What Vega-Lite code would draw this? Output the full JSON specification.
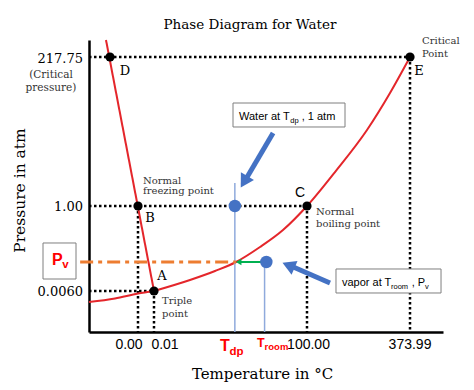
{
  "$schema": "https://vega.github.io/schema/vega-lite/v6.json",
  "width": 354,
  "height": 292,
  "autosize": {"type": "none"},
  "padding": {"left": 89, "top": 40, "right": 31, "bottom": 58},
  "background": "white",
  "view": {"stroke": null},
  "title": {"text": "Phase Diagram for Water", "font": "DejaVu Serif", "fontSize": 13.5, "fontWeight": "normal", "color": "black", "anchor": "middle", "frame": "group", "dx": -16, "offset": -6, "baseline": "alphabetic"},
  "datasets": {
    "curves": [
      {"curve": "fusion", "o": 1, "x": 4.8, "y": 100},
      {"curve": "fusion", "o": 2, "x": 18.36, "y": 14.04},
      {"curve": "sublimation", "o": 1, "x": 0, "y": 10.27},
      {"curve": "sublimation", "o": 2, "x": 7.34, "y": 11.47},
      {"curve": "sublimation", "o": 3, "x": 13.84, "y": 13.18},
      {"curve": "sublimation", "o": 4, "x": 18.36, "y": 14.04},
      {"curve": "vaporization", "o": 1, "x": 18.36, "y": 14.04},
      {"curve": "vaporization", "o": 2, "x": 28.53, "y": 17.81},
      {"curve": "vaporization", "o": 3, "x": 35.59, "y": 20.89},
      {"curve": "vaporization", "o": 4, "x": 41.53, "y": 23.97},
      {"curve": "vaporization", "o": 5, "x": 48.31, "y": 29.11},
      {"curve": "vaporization", "o": 6, "x": 54.8, "y": 34.93},
      {"curve": "vaporization", "o": 7, "x": 61.58, "y": 43.15},
      {"curve": "vaporization", "o": 8, "x": 69.49, "y": 54.79},
      {"curve": "vaporization", "o": 9, "x": 78.53, "y": 69.18},
      {"curve": "vaporization", "o": 10, "x": 85.03, "y": 81.85},
      {"curve": "vaporization", "o": 11, "x": 90.68, "y": 94.18}
    ],
    "dotted": [
      {"x": 0, "y": 94.18, "x2": 90.68, "y2": 94.18},
      {"x": 90.68, "y": 94.18, "x2": 90.68, "y2": 0},
      {"x": 0, "y": 43.15, "x2": 61.58, "y2": 43.15},
      {"x": 13.84, "y": 43.15, "x2": 13.84, "y2": 0},
      {"x": 61.58, "y": 43.15, "x2": 61.58, "y2": 0},
      {"x": 0, "y": 14.04, "x2": 18.36, "y2": 14.04},
      {"x": 18.36, "y": 14.04, "x2": 18.36, "y2": 0}
    ],
    "guides": [
      {"line": "Tdp", "x": 41.2, "y": 0, "x2": 41.2, "y2": 51.0},
      {"line": "Troom", "x": 49.6, "y": 0, "x2": 49.6, "y2": 23.97},
      {"line": "Pv", "x": -2.5, "y": 23.97, "x2": 41.5, "y2": 23.97},
      {"line": "cooling", "x": 50.1, "y": 23.97, "x2": 42.8, "y2": 23.97},
      {"line": "pointer", "x": 52.0, "y": 68.15, "x2": 44.35, "y2": 52.4},
      {"line": "pointer", "x": 68.08, "y": 16.78, "x2": 57.06, "y2": 22.6}
    ],
    "points": [
      {"kind": "black", "name": "D", "x": 5.93, "y": 94.18},
      {"kind": "black", "name": "B", "x": 13.84, "y": 43.15},
      {"kind": "black", "name": "A", "x": 18.36, "y": 14.04},
      {"kind": "black", "name": "C", "x": 61.58, "y": 43.15},
      {"kind": "black", "name": "E", "x": 90.68, "y": 94.18},
      {"kind": "blue", "name": "water", "x": 41.2, "y": 43.15},
      {"kind": "blue", "name": "vapor", "x": 50.1, "y": 23.97}
    ],
    "heads": [
      {"head": "water", "x": 43.81, "y": 51.44},
      {"head": "vapor", "x": 56.36, "y": 22.84},
      {"head": "cooling", "x": 42.29, "y": 23.97}
    ],
    "boxes": [
      {"box": "water", "x": 40.68, "y": 78.42, "x2": 72.32, "y2": 70.21},
      {"box": "vapor", "x": 69.77, "y": 21.58, "x2": 99.44, "y2": 13.36},
      {"box": "Pv", "x": -12.99, "y": 30.48, "x2": -3.67, "y2": 18.15}
    ],
    "labels": [
      {"role": "ytick", "x": -1.69, "y": 92.12, "text": "217.75"},
      {"role": "ytick", "x": -1.69, "y": 41.44, "text": "1.00"},
      {"role": "ytick", "x": -1.69, "y": 12.33, "text": "0.0060"},
      {"role": "ynote", "x": -10.73, "y": 86.99, "text": "(Critical"},
      {"role": "ynote", "x": -10.73, "y": 82.53, "text": "pressure)"},
      {"role": "xtick", "x": 11.3, "y": -5.82, "text": "0.00"},
      {"role": "xtick", "x": 21.47, "y": -5.82, "text": "0.01"},
      {"role": "xtick", "x": 62.01, "y": -5.82, "text": "100.00"},
      {"role": "xtick", "x": 90.68, "y": -5.82, "text": "373.99"},
      {"role": "letter", "x": 10.17, "y": 88.01, "text": "D"},
      {"role": "letter", "x": 93.22, "y": 88.01, "text": "E"},
      {"role": "letter", "x": 17.23, "y": 37.67, "text": "B"},
      {"role": "letter", "x": 20.62, "y": 17.81, "text": "A"},
      {"role": "letterC", "x": 59.6, "y": 46.23, "text": "C"},
      {"role": "note", "x": 15.25, "y": 50.68, "text": "Normal"},
      {"role": "note", "x": 15.25, "y": 47.26, "text": "freezing point"},
      {"role": "note", "x": 64.12, "y": 40.07, "text": "Normal"},
      {"role": "note", "x": 64.12, "y": 35.96, "text": "boiling point"},
      {"role": "note", "x": 20.62, "y": 9.59, "text": "Triple"},
      {"role": "note", "x": 20.62, "y": 5.14, "text": "point"},
      {"role": "note", "x": 94.07, "y": 98.63, "text": "Critical"},
      {"role": "note", "x": 94.07, "y": 94.18, "text": "Point"},
      {"role": "boxtext", "x": 42.37, "y": 72.6, "text": "Water at T"},
      {"role": "boxtext", "x": 60.08, "y": 72.6, "text": ", 1 atm"},
      {"role": "boxtext", "x": 71.47, "y": 15.75, "text": "vapor at T"},
      {"role": "boxtext", "x": 91.15, "y": 15.75, "text": ", P"},
      {"role": "boxsub", "x": 56.86, "y": 71.58, "text": "dp"},
      {"role": "boxsub", "x": 85.31, "y": 14.73, "text": "room"},
      {"role": "boxsub", "x": 94.94, "y": 14.73, "text": "v"},
      {"role": "redmain", "x": 37.01, "y": -6.51, "text": "T"},
      {"role": "redmain", "x": -10.45, "y": 22.95, "text": "P"},
      {"role": "redsub", "x": 39.69, "y": -7.88, "text": "dp"},
      {"role": "redsub", "x": -7.54, "y": 21.92, "text": "v"},
      {"role": "redmainsmall", "x": 47.46, "y": -5.14, "text": "T"},
      {"role": "redsubsmall", "x": 49.6, "y": -6.16, "text": "room"}
    ]
  },
  "encoding": {
    "x": {"field": "x", "type": "quantitative", "scale": {"domain": [0, 100], "nice": false, "zero": false},
      "axis": {"title": "Temperature in °C", "labels": false, "ticks": false, "grid": false, "domainColor": "black", "domainWidth": 2.5, "titleFont": "DejaVu Serif", "titleFontSize": 15, "titleFontWeight": "normal", "titleColor": "black", "titleX": 173, "titleY": 46, "titleAlign": "center", "titleBaseline": "alphabetic"}},
    "y": {"field": "y", "type": "quantitative", "scale": {"domain": [0, 100], "nice": false, "zero": false},
      "axis": {"title": "Pressure in atm", "labels": false, "ticks": false, "grid": false, "domainColor": "black", "domainWidth": 2.5, "titleFont": "DejaVu Serif", "titleFontSize": 15.5, "titleFontWeight": "normal", "titleColor": "black", "titleAngle": -90, "titleX": -65, "titleY": 150, "titleAlign": "center", "titleBaseline": "alphabetic"}}
  },
  "layer": [
    {"data": {"name": "dotted"}, "mark": {"type": "rule", "color": "black", "strokeWidth": 2.5, "strokeDash": [2.5, 2.5]}, "encoding": {"x2": {"field": "x2"}, "y2": {"field": "y2"}}},
    {"data": {"name": "curves"}, "mark": {"type": "line", "color": "#e4262b", "strokeWidth": 2, "interpolate": "monotone"}, "encoding": {"detail": {"field": "curve"}, "order": {"field": "o"}}},
    {"data": {"name": "guides"}, "transform": [{"filter": "datum.line === 'Tdp' || datum.line === 'Troom'"}], "mark": {"type": "rule", "color": "#8faadc", "strokeWidth": 1.5}, "encoding": {"x2": {"field": "x2"}, "y2": {"field": "y2"}}},
    {"data": {"name": "guides"}, "transform": [{"filter": "datum.line === 'Pv'"}], "mark": {"type": "rule", "color": "#ed7d31", "strokeWidth": 3, "strokeDash": [13, 5, 4, 5]}, "encoding": {"x2": {"field": "x2"}, "y2": {"field": "y2"}}},
    {"data": {"name": "guides"}, "transform": [{"filter": "datum.line === 'cooling'"}], "mark": {"type": "rule", "color": "#00b050", "strokeWidth": 2}, "encoding": {"x2": {"field": "x2"}, "y2": {"field": "y2"}}},
    {"data": {"name": "heads"}, "transform": [{"filter": "datum.head === 'cooling'"}], "mark": {"type": "point", "shape": "triangle-left", "size": 40, "filled": true, "opacity": 1, "color": "#00b050"}},
    {"data": {"name": "points"}, "transform": [{"filter": "datum.kind === 'black'"}], "mark": {"type": "point", "shape": "circle", "size": 85, "filled": true, "opacity": 1, "color": "black"}},
    {"data": {"name": "points"}, "transform": [{"filter": "datum.kind === 'blue'"}], "mark": {"type": "point", "shape": "circle", "size": 155, "filled": true, "opacity": 1, "color": "#4472c4"}},
    {"data": {"name": "boxes"}, "mark": {"type": "rect", "fill": "white", "stroke": "#7f7f7f", "strokeWidth": 1}, "encoding": {"x2": {"field": "x2"}, "y2": {"field": "y2"}}},
    {"data": {"name": "guides"}, "transform": [{"filter": "datum.line === 'pointer'"}], "mark": {"type": "rule", "color": "#4472c4", "strokeWidth": 5}, "encoding": {"x2": {"field": "x2"}, "y2": {"field": "y2"}}},
    {"data": {"name": "heads"}, "transform": [{"filter": "datum.head === 'water'"}], "mark": {"type": "point", "shape": "triangle-up", "size": 230, "angle": 210.6, "filled": true, "opacity": 1, "color": "#4472c4"}},
    {"data": {"name": "heads"}, "transform": [{"filter": "datum.head === 'vapor'"}], "mark": {"type": "point", "shape": "triangle-up", "size": 230, "angle": 293, "filled": true, "opacity": 1, "color": "#4472c4"}},
    {"data": {"name": "labels"}, "transform": [{"filter": "datum.role === 'ytick'"}], "mark": {"type": "text", "font": "DejaVu Serif", "fontSize": 13, "align": "right", "baseline": "alphabetic", "color": "black"}, "encoding": {"text": {"field": "text"}}},
    {"data": {"name": "labels"}, "transform": [{"filter": "datum.role === 'ynote'"}], "mark": {"type": "text", "font": "DejaVu Serif", "fontSize": 10.5, "align": "center", "baseline": "alphabetic", "color": "#333333"}, "encoding": {"text": {"field": "text"}}},
    {"data": {"name": "labels"}, "transform": [{"filter": "datum.role === 'xtick'"}], "mark": {"type": "text", "font": "Liberation Sans", "fontSize": 14, "align": "center", "baseline": "alphabetic", "color": "black"}, "encoding": {"text": {"field": "text"}}},
    {"data": {"name": "labels"}, "transform": [{"filter": "datum.role === 'letter'"}], "mark": {"type": "text", "font": "DejaVu Serif", "fontSize": 13, "align": "center", "baseline": "alphabetic", "color": "black"}, "encoding": {"text": {"field": "text"}}},
    {"data": {"name": "labels"}, "transform": [{"filter": "datum.role === 'letterC'"}], "mark": {"type": "text", "font": "Liberation Sans", "fontSize": 14, "align": "center", "baseline": "alphabetic", "color": "black"}, "encoding": {"text": {"field": "text"}}},
    {"data": {"name": "labels"}, "transform": [{"filter": "datum.role === 'note'"}], "mark": {"type": "text", "font": "DejaVu Serif", "fontSize": 10, "align": "left", "baseline": "alphabetic", "color": "#333333"}, "encoding": {"text": {"field": "text"}}},
    {"data": {"name": "labels"}, "transform": [{"filter": "datum.role === 'boxtext'"}], "mark": {"type": "text", "font": "Liberation Sans", "fontSize": 11, "align": "left", "baseline": "alphabetic", "color": "black"}, "encoding": {"text": {"field": "text"}}},
    {"data": {"name": "labels"}, "transform": [{"filter": "datum.role === 'boxsub'"}], "mark": {"type": "text", "font": "Liberation Sans", "fontSize": 7.5, "align": "left", "baseline": "alphabetic", "color": "black"}, "encoding": {"text": {"field": "text"}}},
    {"data": {"name": "labels"}, "transform": [{"filter": "datum.role === 'redmain'"}], "mark": {"type": "text", "font": "Liberation Sans", "fontSize": 16, "fontWeight": "bold", "align": "left", "baseline": "alphabetic", "color": "#ff0000"}, "encoding": {"text": {"field": "text"}}},
    {"data": {"name": "labels"}, "transform": [{"filter": "datum.role === 'redsub'"}], "mark": {"type": "text", "font": "Liberation Sans", "fontSize": 11.5, "fontWeight": "bold", "align": "left", "baseline": "alphabetic", "color": "#ff0000"}, "encoding": {"text": {"field": "text"}}},
    {"data": {"name": "labels"}, "transform": [{"filter": "datum.role === 'redmainsmall'"}], "mark": {"type": "text", "font": "Liberation Sans", "fontSize": 12.5, "fontWeight": "bold", "align": "left", "baseline": "alphabetic", "color": "#ff0000"}, "encoding": {"text": {"field": "text"}}},
    {"data": {"name": "labels"}, "transform": [{"filter": "datum.role === 'redsubsmall'"}], "mark": {"type": "text", "font": "Liberation Sans", "fontSize": 9.5, "fontWeight": "bold", "align": "left", "baseline": "alphabetic", "color": "#ff0000"}, "encoding": {"text": {"field": "text"}}}
  ]
}
